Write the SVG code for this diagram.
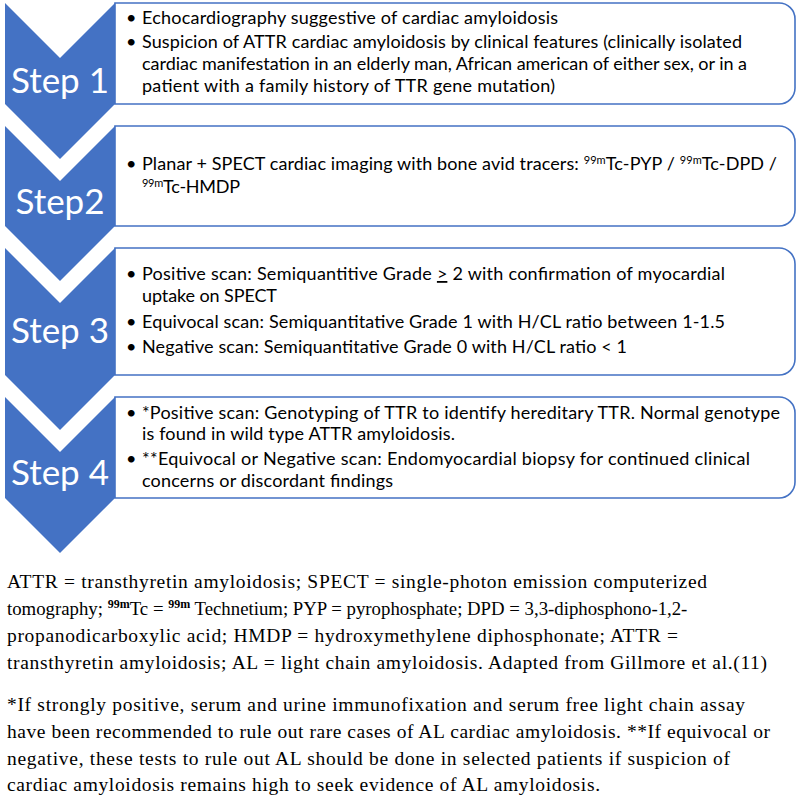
<svg xmlns="http://www.w3.org/2000/svg" width="800" height="799" viewBox="0 0 800 799">
<style>
.chev{fill:#4472C4}
.box{fill:#fff;stroke:#4472C4;stroke-width:1.6}
.step{font-family:Lato,"Open Sans",sans-serif;font-size:35px;fill:#fff;text-anchor:middle}
.body{font-family:Lato,"Open Sans",sans-serif;font-size:18px;fill:#000}
.sup{font-size:11px}
.note{font-family:"Liberation Serif","DejaVu Serif",serif;font-size:19.5px;fill:#000}
.nsup{font-size:12px;font-weight:bold}
</style>
<rect width="800" height="799" fill="#fff"/>
<g id="step1">
<polygon class="chev" points="5,3 60,58 115,3 115,104 60,159 5,104"/>
<path class="box" d="M115,3 H779 A16,16 0 0 1 795,19 V88 A16,16 0 0 1 779,104 H115 Z"/>
<text class="step" x="60" y="93">Step 1</text>
<text class="body" x="126" y="24">•</text>
<text class="body" x="142" y="24" textLength="416">Echocardiography suggestive of cardiac amyloidosis</text>
<text class="body" x="126" y="48">•</text>
<text class="body" x="142" y="48" textLength="600">Suspicion of ATTR cardiac amyloidosis by clinical features (clinically isolated</text>
<text class="body" x="142" y="70" textLength="605">cardiac manifestation in an elderly man, African american of either sex, or in a</text>
<text class="body" x="142" y="92" textLength="413">patient with a family history of TTR gene mutation)</text>
</g>
<g id="step2">
<polygon class="chev" points="5,126 60,181 115,126 115,226 60,281 5,226"/>
<path class="box" d="M115,126 H779 A16,16 0 0 1 795,142 V210 A16,16 0 0 1 779,226 H115 Z"/>
<text class="step" x="60" y="214">Step2</text>
<text class="body" x="126" y="170">•</text>
<text class="body" x="142" y="170" textLength="635">Planar + SPECT cardiac imaging with bone avid tracers: <tspan class="sup" dy="-6">99m</tspan><tspan dy="6">Tc-PYP / </tspan><tspan class="sup" dy="-6">99m</tspan><tspan dy="6">Tc-DPD /</tspan></text>
<text class="body" x="142" y="193" textLength="98"><tspan class="sup" dy="-6">99m</tspan><tspan dy="6">Tc-HMDP</tspan></text>
</g>
<g id="step3">
<polygon class="chev" points="5,248 60,303 115,248 115,375 60,430 5,375"/>
<path class="box" d="M115,248 H779 A16,16 0 0 1 795,264 V359 A16,16 0 0 1 779,375 H115 Z"/>
<text class="step" x="60" y="343">Step 3</text>
<text class="body" x="126" y="280">•</text>
<text class="body" x="142" y="280" textLength="583">Positive scan: Semiquantitive Grade <tspan text-decoration="underline">&gt;</tspan> 2 with confirmation of myocardial</text>
<text class="body" x="142" y="302" textLength="135">uptake on SPECT</text>
<text class="body" x="126" y="328">•</text>
<text class="body" x="142" y="328" textLength="583">Equivocal scan: Semiquantitative Grade 1 with H/CL ratio between 1-1.5</text>
<text class="body" x="126" y="353">•</text>
<text class="body" x="142" y="353" textLength="485">Negative scan: Semiquantitative Grade 0 with H/CL ratio &lt; 1</text>
</g>
<g id="step4">
<polygon class="chev" points="5,397 60,452 115,397 115,498 60,553 5,498"/>
<path class="box" d="M115,397 H779 A16,16 0 0 1 795,413 V482 A16,16 0 0 1 779,498 H115 Z"/>
<text class="step" x="60" y="485">Step 4</text>
<text class="body" x="126" y="419">•</text>
<text class="body" x="142" y="419" textLength="638">*Positive scan: Genotyping of TTR to identify hereditary TTR. Normal genotype</text>
<text class="body" x="142" y="440" textLength="313">is found in wild type ATTR amyloidosis.</text>
<text class="body" x="126" y="465">•</text>
<text class="body" x="142" y="465" textLength="608">**Equivocal or Negative scan: Endomyocardial biopsy for continued clinical</text>
<text class="body" x="142" y="487" textLength="251">concerns or discordant findings</text>
</g>
<g id="connectors"></g>
<g id="notes">
<text class="note" x="7" y="588" textLength="700">ATTR = transthyretin amyloidosis; SPECT = single-photon emission computerized</text>
<text class="note" x="7" y="615" style="font-size:18.8px">tomography; <tspan class="nsup" dy="-7">99m</tspan><tspan dy="7">Tc = </tspan><tspan class="nsup" dy="-7">99m</tspan><tspan dy="7"> Technetium; PYP = pyrophosphate; DPD = 3,3-diphosphono-1,2-</tspan></text>
<text class="note" x="7" y="642" textLength="671">propanodicarboxylic acid; HMDP = hydroxymethylene diphosphonate; ATTR =</text>
<text class="note" x="7" y="669" textLength="760">transthyretin amyloidosis; AL = light chain amyloidosis. Adapted from Gillmore et al.(11)</text>
<text class="note" x="7" y="711" textLength="738">*If strongly positive, serum and urine immunofixation and serum free light chain assay</text>
<text class="note" x="7" y="738" textLength="763">have been recommended to rule out rare cases of AL cardiac amyloidosis. **If equivocal or</text>
<text class="note" x="7" y="765" textLength="723">negative, these tests to rule out AL should be done in selected patients if suspicion of</text>
<text class="note" x="7" y="791" textLength="593">cardiac amyloidosis remains high to seek evidence of AL amyloidosis.</text>
</g>
</svg>
